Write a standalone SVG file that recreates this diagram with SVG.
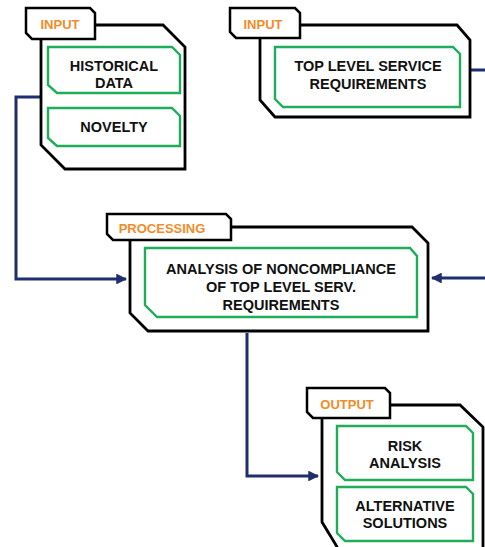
<svg xmlns="http://www.w3.org/2000/svg" width="485" height="547" viewBox="0 0 485 547">
<defs>
<marker id="arr" viewBox="0 0 10 10" refX="9" refY="5" markerWidth="3.6" markerHeight="3.6" markerUnits="strokeWidth" orient="auto">
<path d="M0,0 L10,5 L0,10 Z" fill="#1f2e6e"/>
</marker>
<style>
.box{fill:#fff;stroke:#000;stroke-width:2.8;stroke-linejoin:miter}
.tab{fill:#fff;stroke:#000;stroke-width:2.5}
.inner{fill:#fff;stroke:#1fad5a;stroke-width:2.4}
.tt{font-family:"Liberation Sans",Arial,sans-serif;font-weight:bold;font-size:13px;fill:#f28c28;text-anchor:middle}
.lb{font-family:"Liberation Sans",Arial,sans-serif;font-weight:bold;font-size:14.5px;fill:#111;text-anchor:middle}
.con{fill:none;stroke:#1f2e6e;stroke-width:3}
</style>
</defs>
<g id="connectors">
<path class="con" d="M41,97 H16 V279 H126" marker-end="url(#arr)"/>
<path class="con" d="M470,70 H492 V278 H432" marker-end="url(#arr)"/>
<path class="con" d="M247,333 V476 H318" marker-end="url(#arr)"/>
</g>
<g id="input-historical">
<path class="box" d="M95,25 H163 L185,47 V169 H65 L41,145 V38"/>
<path class="tab" d="M26,8 H90 L95,13 V39 H32 L26,33 Z"/>
<text class="tt" x="60" y="29">INPUT</text>
<path class="inner" d="M48,47 H172 L180,55 V93 H57 L48,85 Z"/>
<text class="lb" x="114" y="71">HISTORICAL</text>
<text class="lb" x="114" y="88">DATA</text>
<path class="inner" d="M48,108 H172 L180,116 V146 H57 L48,138 Z"/>
<text class="lb" x="114" y="132">NOVELTY</text>
</g>
<g id="input-tls">
<path class="box" d="M300,25 H457 L470,40 V117 H275 L260,100 V37"/>
<path class="tab" d="M230,8 H295 L300,13 V38 H236 L230,32 Z"/>
<text class="tt" x="263" y="29">INPUT</text>
<path class="inner" d="M275,47 H453 L460,54 V107 H283 L275,99 Z"/>
<text class="lb" x="368" y="71">TOP LEVEL SERVICE</text>
<text class="lb" x="368" y="89">REQUIREMENTS</text>
</g>
<g id="processing">
<path class="box" d="M231,227 H412 L428,243 V331 H148 L130,313 V240"/>
<path class="tab" d="M107,214 H226 L231,219 V240 H113 L107,234 Z"/>
<text class="tt" x="162" y="233">PROCESSING</text>
<path class="inner" d="M145,248 H410 L417,256 V317 H157 L145,305 Z"/>
<text class="lb" x="281" y="274">ANALYSIS OF NONCOMPLIANCE</text>
<text class="lb" x="281" y="292">OF TOP LEVEL SERV.</text>
<text class="lb" x="281" y="310">REQUIREMENTS</text>
</g>
<g id="output">
<path class="box" d="M390,405 H460 L483,427 V560 H345 L322,522 V418"/>
<path class="tab" d="M307,388 H385 L390,393 V418 H313 L307,412 Z"/>
<text class="tt" x="347" y="409">OUTPUT</text>
<path class="inner" d="M337,426 H466 L473,433 V480 H345 L337,472 Z"/>
<text class="lb" x="405" y="451">RISK</text>
<text class="lb" x="405" y="468">ANALYSIS</text>
<path class="inner" d="M337,487 H466 L473,494 V541 H345 L337,533 Z"/>
<text class="lb" x="405" y="511">ALTERNATIVE</text>
<text class="lb" x="405" y="528">SOLUTIONS</text>
</g>
</svg>
